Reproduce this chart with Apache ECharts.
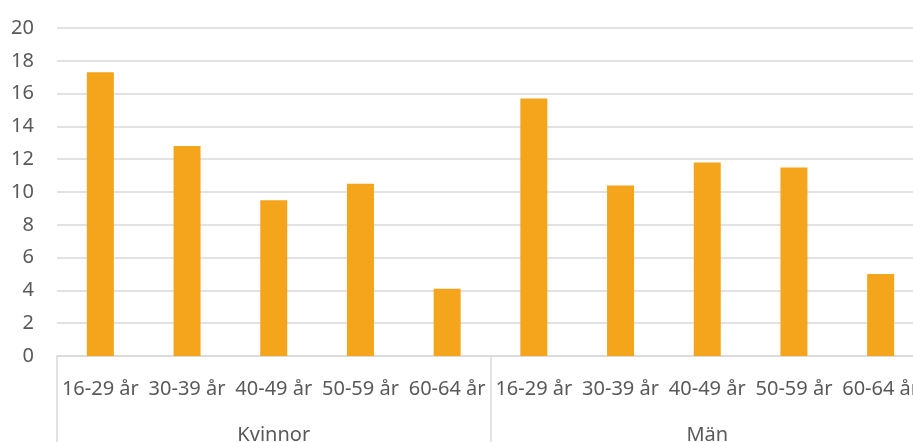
<!DOCTYPE html>
<html>
<head>
<meta charset="utf-8">
<script src="https://cdn.jsdelivr.net/npm/echarts@6/dist/echarts.min.js"></script>
<style>
html,body{margin:0;padding:0;background:#fff;}
#chart{width:913px;height:442px;}
</style>
</head>
<body>
<div id="chart"></div>
<script>
const ageGroups = ['16-29 år','30-39 år','40-49 år','50-59 år','60-64 år','16-29 år','30-39 år','40-49 år','50-59 år','60-64 år'];
const genderGroups = ['Kvinnor','Män'];
const values = [17.3, 12.8, 9.5, 10.5, 4.1, 15.7, 10.4, 11.8, 11.5, 5.0];
const yTicks = {min: 0, max: 20, interval: 2};

const textColor = '#595959';
const gridColor = '#d9d9d9';
const fontFam = '"Noto Sans", "Open Sans", sans-serif';

const chart = echarts.init(document.getElementById('chart'), null, {renderer: 'canvas'});
chart.setOption({
  animation: false,
  backgroundColor: '#ffffff',
  grid: {left: 57, top: 28, width: 867, height: 328, outerBoundsMode: 'none', containLabel: false},
  xAxis: [
    {
      type: 'category',
      data: ageGroups,
      position: 'bottom',
      axisLine: {show: true, lineStyle: {color: gridColor, width: 1.5}},
      axisTick: {show: false},
      axisLabel: {interval: 0, color: textColor, fontSize: 20, fontFamily: fontFam, margin: 23}
    },
    {
      type: 'category',
      data: genderGroups,
      position: 'bottom',
      axisLine: {show: false},
      axisTick: {show: true, length: 100, lineStyle: {color: gridColor, width: 1.5}},
      axisLabel: {interval: 0, color: textColor, fontSize: 20, fontFamily: fontFam, margin: 69},
      splitLine: {show: false}
    }
  ],
  yAxis: {
    type: 'value',
    min: yTicks.min, max: yTicks.max, interval: yTicks.interval,
    axisLine: {show: false},
    axisTick: {show: false},
    splitLine: {lineStyle: {color: gridColor, width: 1.5}},
    axisLabel: {color: textColor, fontSize: 20, fontFamily: fontFam, margin: 23}
  },
  series: [{
    type: 'bar',
    xAxisIndex: 0,
    data: values,
    barWidth: 27,
    itemStyle: {color: '#F5A51B'}
  }]
});
</script>
</body>
</html>
